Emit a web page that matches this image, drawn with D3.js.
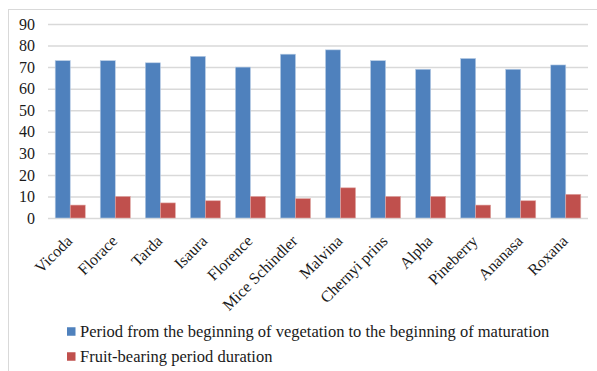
<!DOCTYPE html>
<html><head><meta charset="utf-8">
<script src="https://cdn.jsdelivr.net/npm/d3@7"></script>
<style>body{margin:0;background:#fff}svg{display:block}svg text{font-family:'Liberation Serif','Times New Roman',serif}</style>
</head><body>
<svg id="c" width="597" height="371"></svg>
<script>
const categories = ["Vicoda","Florace","Tarda","Isaura","Florence","Mice Schindler","Malvina","Chernyi prins","Alpha","Pineberry","Ananasa","Roxana"];
const seriesNames = ["Period from the beginning of vegetation to the beginning of maturation","Fruit-bearing period duration"];
const vegetation = [73,73,72,75,70,76,78,73,69,74,69,71];
const fruiting = [6,10,7,8,10,9,14,10,10,6,8,11];
const yTicks = [0,10,20,30,40,50,60,70,80,90];
const colors = ["#4f81bd","#c0504d"];

const svg = d3.select("#c");
const serifFont = "Liberation Serif, Times New Roman, serif";
svg.append("rect").attr("x",8.5).attr("y",9.5).attr("width",620).attr("height",400)
  .attr("fill","none").attr("stroke","#d9d9d9").attr("stroke-width",1);

const L=48,R=588,T=24,B=218;
const x = d3.scaleBand().domain(categories).range([L,R]).paddingInner(0.333).paddingOuter(0.16);
const xs = d3.scaleBand().domain([0,1]).range([0,x.bandwidth()]);
const y = d3.scaleLinear().domain([0,90]).range([B,T]);

const gy = svg.append("g").attr("transform",`translate(${L},0)`)
  .call(d3.axisLeft(y).tickValues(yTicks).tickSize(-(R-L)).tickPadding(13));
gy.attr("font-family",null);
gy.select(".domain").remove();
gy.selectAll(".tick line").attr("stroke","#d9d9d9").attr("stroke-width",1.5);
gy.selectAll(".tick text").style("font-family",serifFont).attr("font-size",16).attr("fill","#1a1a1a");

const g = svg.append("g");
categories.forEach((c,i)=>{
  [vegetation[i],fruiting[i]].forEach((v,j)=>{
    g.append("rect").attr("x",x(c)+xs(j)).attr("y",y(v)).attr("width",xs.bandwidth()).attr("height",y(0)-y(v))
      .attr("fill",colors[j]).attr("stroke",j?"#e0a8a6":"#b8cce4").attr("stroke-width",0.6);
  });
});

const gx = svg.append("g").attr("transform",`translate(0,${B})`).call(d3.axisBottom(x).tickSize(0).tickPadding(0));
gx.attr("font-family",null);
gx.select(".domain").remove();
gx.selectAll(".tick text").style("font-family",serifFont).attr("font-size",16).attr("fill","#1a1a1a")
  .attr("text-anchor","end").attr("dy",0).attr("y",0)
  .attr("transform","translate(3,24) rotate(-45)");

const leg = svg.append("g");
seriesNames.forEach((s,i)=>{
  const cy = 331.5 + i*25;
  leg.append("rect").attr("x",67).attr("y",cy-4.25).attr("width",8.5).attr("height",8.5).attr("fill",colors[i]);
  leg.append("text").attr("x",80).attr("y",cy+5.5).style("font-family",serifFont).attr("font-size",16.5).attr("fill","#1a1a1a").text(s);
});
</script>
</body></html>
